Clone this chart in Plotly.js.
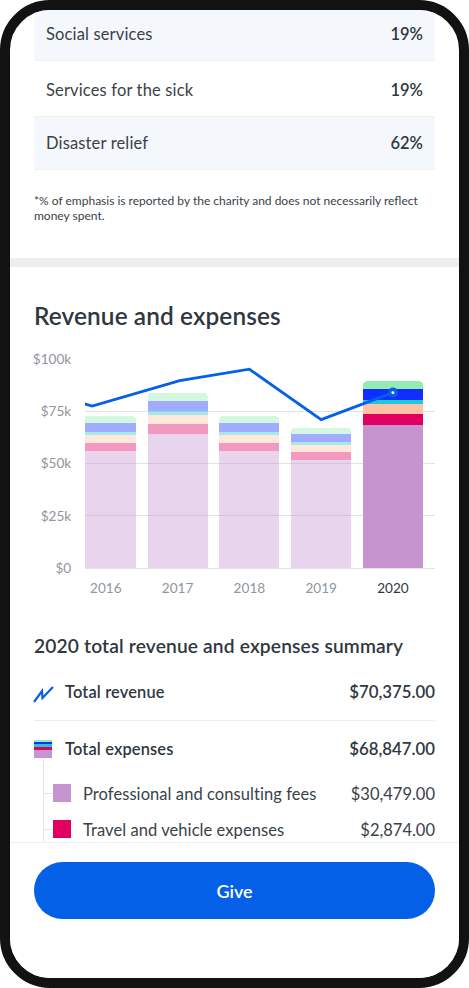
<!DOCTYPE html>
<html><head><meta charset="utf-8">
<script src="https://cdn.plot.ly/plotly-3.0.1.min.js"></script>
<style>
html,body{margin:0;padding:0;background:#fff;width:469px;height:988px;overflow:hidden;font-family:Lato,"Open Sans",sans-serif;color:#3a4248}
#phone{position:absolute;left:0;top:0;width:449px;height:968px;border:10px solid #121212;border-radius:50px;overflow:hidden;background:#fff}
#stage{position:absolute;left:-10px;top:-10px;width:469px;height:988px}
.a{position:absolute;white-space:nowrap}
.band{left:34px;width:401px;border-bottom:1.5px solid #eef0f2;box-sizing:border-box}
.b{font-weight:600;color:#2f383f}
#chart{position:absolute;left:0;top:340px;width:469px;height:270px}
</style></head><body>
<div id="phone"><div id="stage">
<div id="rows"></div>
<div class="a" style="left:34px;top:193px;font-size:12px;line-height:15px;color:#3a4248">*% of emphasis is reported by the charity and does not necessarily reflect<br>money spent.</div>
<div class="a" style="left:0;top:258px;width:469px;height:9px;background:#eeeeee"></div>
<div class="a b" id="title" style="left:34px;top:301px;font-size:24.4px;line-height:30px;letter-spacing:.1px">Revenue and expenses</div>
<div id="chart"></div>
<div class="a b" id="sumtitle" style="left:34px;top:634px;font-size:19.2px;line-height:24px;letter-spacing:.15px">2020 total revenue and expenses summary</div>
<svg class="a" style="left:32px;top:685px" width="24" height="19" viewBox="0 0 24 19"><polyline points="2,17 10,6 10.5,13 21,2" fill="none" stroke="#0560e8" stroke-width="2.2"/></svg>
<div class="a b" style="left:65px;top:682px;font-size:16.4px;line-height:20px;letter-spacing:.15px">Total revenue</div>
<div class="a b" style="right:34px;top:682px;font-size:16.8px;line-height:20px" id="totrev"></div>
<div class="a" style="left:34px;top:720px;width:401px;height:1px;background:#eceef0"></div>
<div class="a" id="stripes" style="left:34px;top:740px;width:18px;height:18px"></div>
<div class="a b" style="left:65px;top:739px;font-size:16.4px;line-height:20px;letter-spacing:.15px">Total expenses</div>
<div class="a b" style="right:34px;top:739px;font-size:16.8px;line-height:20px" id="totexp"></div>
<div class="a" style="left:43px;top:758px;width:1px;height:86px;background:#e3e5e7"></div>
<div id="items"></div>
<div class="a" style="left:0;top:842px;width:469px;height:146px;background:#fff;border-top:1px solid #eceef0;box-sizing:border-box"></div>
<div class="a" style="left:34px;top:862px;width:401px;height:57px;border-radius:29px;background:#0560e8;color:#fff;text-align:center;font-size:18px;line-height:58px;font-weight:600">Give</div>
</div></div>
<script>
// Chart data
var years = [2016, 2017, 2018, 2019, 2020];
var yearLabels = ['2016', '2017', '2018', '2019', '2020'];
var professional = [55900, 64200, 55900, 51600, 68500];
var travel = [4000, 4800, 4000, 3700, 5300];
var peach = [3700, 4300, 3700, 3500, 4600];
var cyan = [1700, 1900, 1700, 1600, 2000];
var blue = [4200, 4800, 4200, 3700, 5100];
var green = [3200, 3700, 3200, 2800, 3800];
var seriesColors = ['#c694cf', '#e0005f', '#fdc3a4', '#1fc8d8', '#0f2fff', '#94edb0'];
var barOpacity = [0.4, 0.4, 0.4, 0.4, 1];
var lineX = [2015.55, 2015.81, 2017.03, 2018, 2019, 2020];
var lineY = [80000, 77500, 89600, 95100, 71000, 83900];
var yTicks = [0, 25000, 50000, 75000, 100000];
var yTickLabels = ['$0', '$25k', '$50k', '$75k', '$100k'];

// Page text
var emphasisNames = ['Social services', 'Services for the sick', 'Disaster relief'];
var emphasisShare = ['19%', '19%', '62%'];
var itemNames = ['Professional and consulting fees', 'Travel and vehicle expenses'];
var itemAmounts = ['$30,479.00', '$2,874.00'];

var tops=[10,61,117], hs=[51,56,53], tc=[34,90,143];
document.getElementById('rows').innerHTML = emphasisNames.map(function(n,i){
  return '<div class="a band" style="top:'+tops[i]+'px;height:'+hs[i]+'px;background:'+(i==1?'#fff':'#f4f7fc')+'"></div>'+
  '<div class="a" style="left:46px;top:'+(tc[i]-10)+'px;font-size:16.5px;line-height:20px;letter-spacing:.15px">'+n+'</div>'+
  '<div class="a b" style="width:60px;text-align:right;right:46px;top:'+(tc[i]-10)+'px;font-size:16.5px;line-height:20px">'+emphasisShare[i]+'</div>';
}).join('');
document.getElementById('totrev').textContent='$70,375.00';
document.getElementById('totexp').textContent='$68,847.00';
var sy=[784,820];
document.getElementById('items').innerHTML = itemNames.map(function(n,i){
  return '<div class="a" style="left:44px;top:'+(sy[i]+9)+'px;width:9px;height:1px;background:#e3e5e7"></div>'+
  '<div class="a" style="left:53px;top:'+sy[i]+'px;width:18px;height:18px;background:'+seriesColors[i]+'"></div>'+
  '<div class="a" style="left:83px;top:'+sy[i]+'px;font-size:16.5px;line-height:20px;letter-spacing:.07px;color:#3a4248">'+n+'</div>'+
  '<div class="a" style="right:34px;top:'+sy[i]+'px;font-size:16.5px;line-height:20px;color:#3a4248">'+itemAmounts[i]+'</div>';
}).join('');
var st=[[10,9],[7,3],[5,1],[4,3],[2,2],[0,2]];
document.getElementById('stripes').innerHTML = seriesColors.map(function(c,i){
  return '<div class="a" style="left:0;top:'+st[i][0]+'px;width:18px;height:'+(i==0?8:st[i][1])+'px;background:'+c+'"></div>';
}).join('');

var stack=[professional,travel,peach,cyan,blue,green];
var traces=stack.map(function(v,i){return {type:'bar',x:years,y:v,width:0.837,
  marker:{color:seriesColors[i],opacity:barOpacity,line:{width:0}},hoverinfo:'skip',showlegend:false};});
traces.push({type:'scatter',mode:'lines',x:lineX,y:lineY,line:{color:'#0560e8',width:2.8,shape:'linear'},hoverinfo:'skip',showlegend:false});
traces.push({type:'scatter',mode:'markers',x:lineX.slice(-1),y:lineY.slice(-1),
  marker:{size:6.5,color:'#fff',line:{color:'#0560e8',width:3.6}},hoverinfo:'skip',showlegend:false});
Plotly.newPlot('chart',traces,{
  width:469,height:270,barmode:'stack',barcornerradius:4,
  margin:{l:85.3,r:34,t:19.3,b:42,pad:0},
  paper_bgcolor:'rgba(0,0,0,0)',plot_bgcolor:'rgba(0,0,0,0)',
  font:{family:'Lato, sans-serif'},
  xaxis:{range:[2015.71,2020.586],tickmode:'array',tickvals:years,
    ticktext:yearLabels.map(function(t,i){return i==4?'<span style="color:#30383e">'+t+'</span>':t;}),
    tickfont:{size:13.6,color:'#8f969c'},showgrid:false,zeroline:false,showline:false,ticks:'outside',ticklen:8,tickcolor:'rgba(0,0,0,0)'},
  yaxis:{range:[0,100000],tickmode:'array',tickvals:yTicks,ticktext:yTickLabels,
    tickfont:{size:13.6,color:'#8f969c'},showgrid:true,gridcolor:'#e0e2e4',gridwidth:1,zeroline:true,zerolinecolor:'#e0e2e4',zerolinewidth:1,
    showline:false,ticks:'outside',ticklen:10,tickcolor:'rgba(0,0,0,0)'}
},{displayModeBar:false,staticPlot:true});
</script>
</body></html>
